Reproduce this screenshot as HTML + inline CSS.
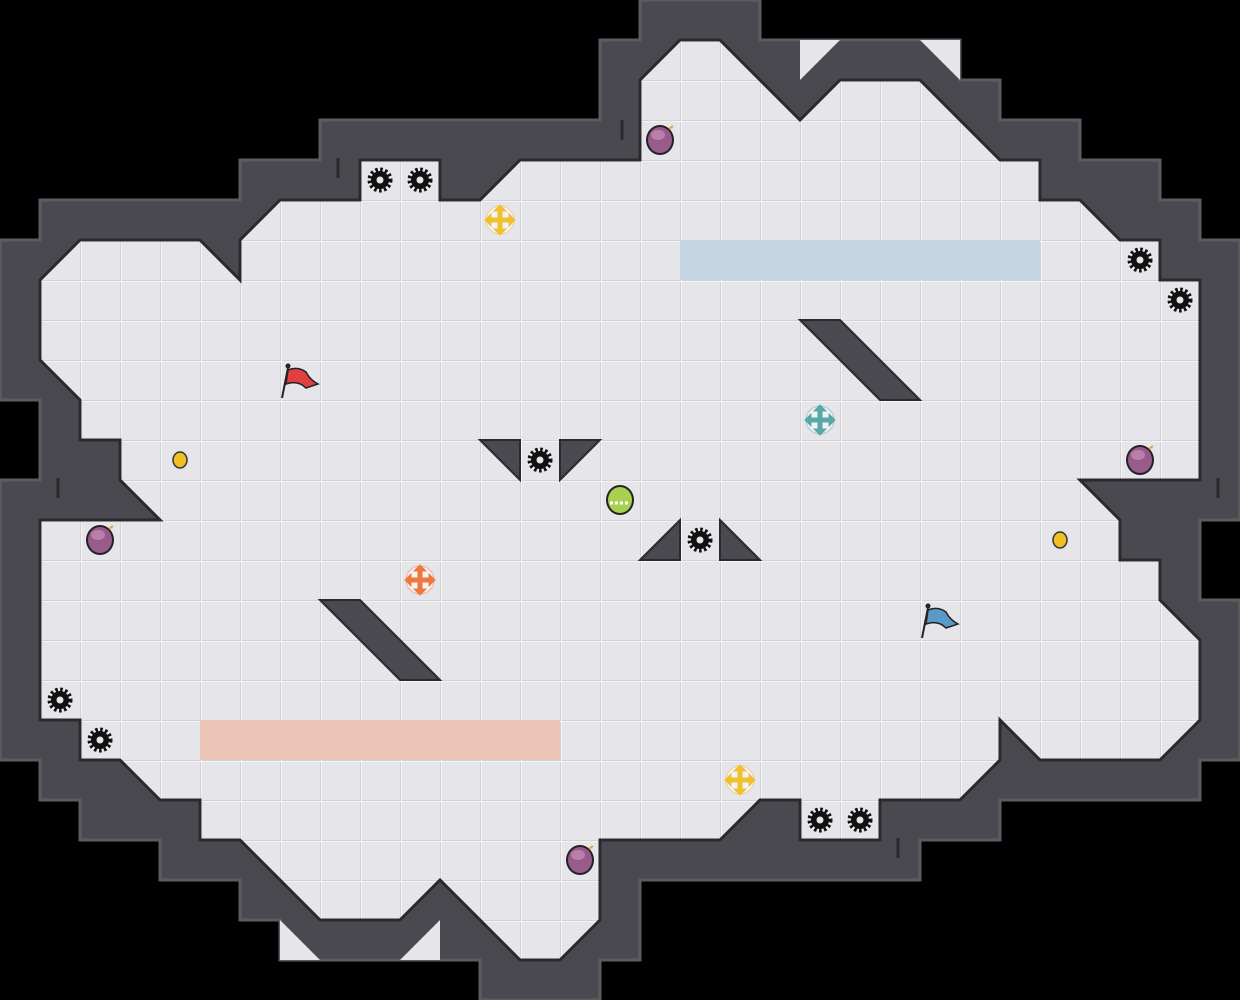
<!DOCTYPE html>
<html><head><meta charset="utf-8"><style>html,body{margin:0;padding:0;background:#000;}svg{display:block}</style></head>
<body>
<svg width="1240" height="1000" viewBox="0 0 1240 1000" xmlns="http://www.w3.org/2000/svg">
<defs>
<pattern id="g" width="40" height="40" patternUnits="userSpaceOnUse">
<rect width="40" height="40" fill="#e6e6ea"/>
<path d="M0 0.5H40M0.5 0V40" stroke="#d2d2d6" stroke-width="1"/>
<path d="M0 1.5H40M1.5 0V40" stroke="#f4f4f6" stroke-width="1"/>
</pattern>
<g id="gear"><circle r="10" fill="none" stroke="#111" stroke-width="5" stroke-dasharray="2.4 2.3"/><circle r="9" fill="#111"/><circle r="3.5" fill="#e6e6ea"/></g>
<g id="bomb"><ellipse rx="14" ry="15" fill="#222"/><ellipse rx="12" ry="13" fill="#9a5a8c"/><ellipse cx="-2" cy="-5" rx="7" ry="5" fill="#c890b8" opacity=".7"/><path d="M9 -11l4 -3" stroke="#e8a030" stroke-width="2"/></g>
<g id="cross"><circle r="14" fill="#fff" opacity=".5"/><path d="M-12 0H12M0 -12V12" stroke-width="5"/><path d="M-15 0l6 -6v12zM15 0l-6 -6v12zM0 -15l-6 6h12zM0 15l-6 -6h12z"/></g>
</defs>
<path d="M640 0H760V40H960V80H1000V120H1080V160H1160V200H1200V240H1240V520H1200V600H1240V760H1200V800H1000V840H920V880H640V960H600V1000H480V960H280V920H240V880H160V840H80V800H40V760H0V480H40V400H0V240H40V200H240V160H320V120H600V40H640Z" fill="#4a494f" stroke="#5c5b61" stroke-width="3"/>
<g fill="#e6e6ea"><path d="M800 40H840L800 80Z"/><path d="M920 40H960V80Z"/><path d="M280 920L320 960H280Z"/><path d="M440 920V960H400Z"/></g>
<path d="M80 240H200L240 280V240L280 200H360V160H440V200H480L520 160H640V80L680 40H720L800 120L840 80H920L1000 160H1040V200H1080L1120 240H1160V280H1200V480H1080L1120 520V560H1160V600L1200 640V720L1160 760H1040L1000 720V760L960 800H880V840H800V800H760L720 840H600V920L560 960H520L440 880L400 920H320L240 840H200V800H160L120 760H80V720H40V520H160L120 480V440H80V400L40 360V280Z" fill="url(#g)" stroke="#2a2a2e" stroke-width="3"/>
<rect x="680" y="240" width="360" height="40" fill="#c4d6e4"/>
<rect x="200" y="720" width="360" height="40" fill="#ebc6b6"/>
<g stroke="#2a2a2e" stroke-width="3"><path d="M622 120V140M338 158V178M58 478V498M1218 478V498M898 838V858"/></g>
<g fill="#4a494f" stroke="#2a2a2e" stroke-width="2">
<path d="M800 320H840L920 400H880Z"/><path d="M320 600H360L440 680H400Z"/>
<path d="M480 440H520V480Z"/><path d="M560 440H600L560 480Z"/>
<path d="M640 560L680 520V560Z"/><path d="M720 520L760 560H720Z"/>
</g>
<g>
<use href="#gear" x="380" y="180"/><use href="#gear" x="420" y="180"/><use href="#gear" x="1140" y="260"/><use href="#gear" x="1180" y="300"/><use href="#gear" x="540" y="460"/><use href="#gear" x="700" y="540"/><use href="#gear" x="60" y="700"/><use href="#gear" x="100" y="740"/><use href="#gear" x="820" y="820"/><use href="#gear" x="860" y="820"/>
<use href="#bomb" x="660" y="140"/><use href="#bomb" x="1140" y="460"/><use href="#bomb" x="100" y="540"/><use href="#bomb" x="580" y="860"/>
</g>
<ellipse cx="180" cy="460" rx="7" ry="8" fill="#f0c020" stroke="#333" stroke-width="1.5"/>
<ellipse cx="1060" cy="540" rx="7" ry="8" fill="#f0c020" stroke="#333" stroke-width="1.5"/>
<use href="#cross" x="500" y="220" stroke="#f0c030" fill="#f0c030"/>
<use href="#cross" x="740" y="780" stroke="#f0c030" fill="#f0c030"/>
<use href="#cross" x="820" y="420" stroke="#5aa8a8" fill="#5aa8a8"/>
<use href="#cross" x="420" y="580" stroke="#f07840" fill="#f07840"/>
<ellipse cx="620" cy="500" rx="14" ry="15" fill="#222"/><ellipse cx="620" cy="500" rx="12" ry="13" fill="#a8d050"/><path d="M610 503h20" stroke="#fff" stroke-width="3" stroke-dasharray="3 2"/>
<g stroke="#222" stroke-width="2"><path d="M282 398L288 368"/><path d="M922 638L928 608"/></g>
<circle cx="288" cy="366" r="2.5" fill="#222"/><circle cx="928" cy="606" r="2.5" fill="#222"/>
<path d="M288 370Q298 366 306 372Q310 380 318 384L306 388Q298 380 286 384Z" fill="#e04040" stroke="#222" stroke-width="1.5"/>
<path d="M928 610Q938 606 946 612Q950 620 958 624L946 628Q938 620 926 624Z" fill="#5a9ac8" stroke="#222" stroke-width="1.5"/>
</svg>
</body></html>
